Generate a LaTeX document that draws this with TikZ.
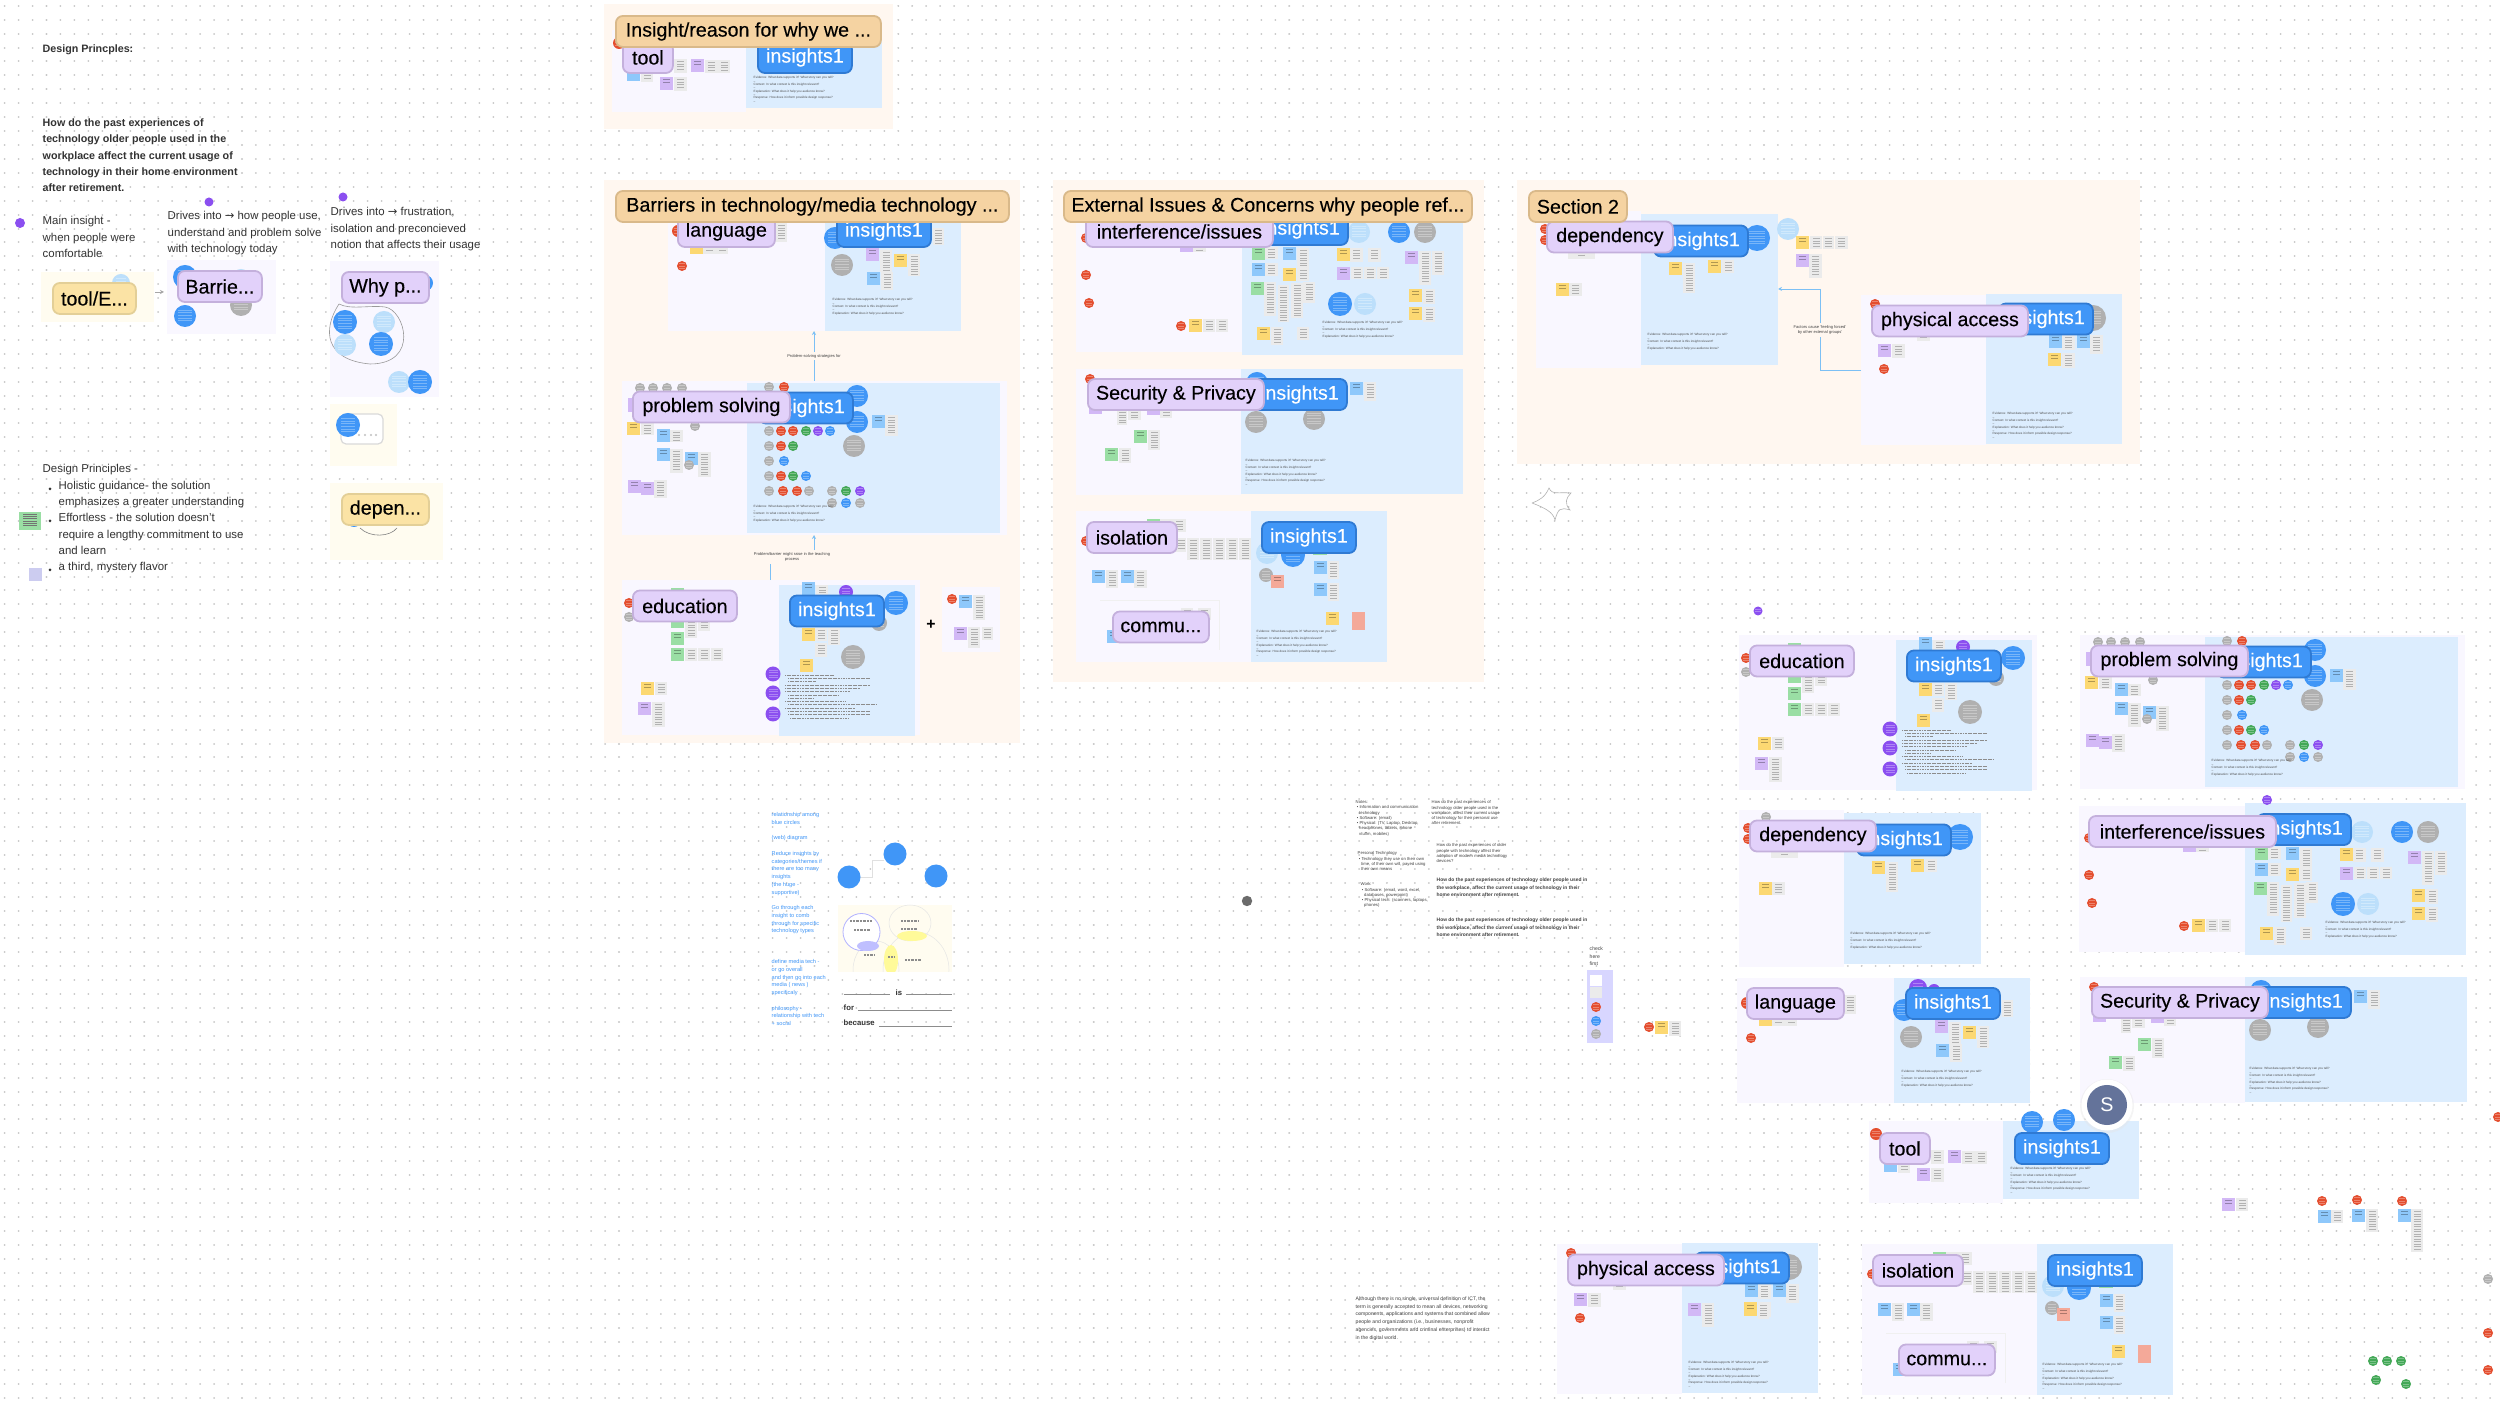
\documentclass[tikz,border=0pt]{standalone}
\usepackage{fontspec}
\setmainfont{Liberation Sans}
\newfontfamily\tagfamily[FakeBold=0.2]{Liberation Sans}
\newfontfamily\arrowfamily{DejaVu Sans}
\usetikzlibrary{arrows.meta}

\definecolor{sectionbg}{HTML}{FFF7F0}
\definecolor{lavbg}{HTML}{F9F7FF}
\definecolor{bluebg}{HTML}{DCEDFE}
\definecolor{yellowbg}{HTML}{FFFCF0}
\definecolor{tagorange}{HTML}{F5D3A2}
\definecolor{edgeorange}{HTML}{D9B98A}
\definecolor{taglav}{HTML}{E2D1FA}
\definecolor{edgelav}{HTML}{C4B0DC}
\definecolor{tagblue}{HTML}{4096F7}
\definecolor{edgeblue}{HTML}{2F7AD3}
\definecolor{tagyellow}{HTML}{FBE3A5}
\definecolor{edgeyellow}{HTML}{E3CF97}
\definecolor{stickyyellow}{HTML}{FCD872}
\definecolor{stickyblue}{HTML}{8EC8FB}
\definecolor{stickygreen}{HTML}{9ADEA4}
\definecolor{stickypurple}{HTML}{D2B8F6}
\definecolor{stickypink}{HTML}{F4A999}
\definecolor{notegrey}{HTML}{EBEBEB}
\definecolor{pipred}{HTML}{E44E2F}
\definecolor{pipblue}{HTML}{4096F7}
\definecolor{piplight}{HTML}{BCDFFB}
\definecolor{pipgrey}{HTML}{B0B0B0}
\definecolor{pipgreen}{HTML}{43A857}
\definecolor{pippurple}{HTML}{8B4FF0}
\definecolor{linkblue}{HTML}{7CC0F5}
\definecolor{avatarblue}{HTML}{64739A}

\tikzset{
  tagbase/.style={rounded corners=0.07cm, line width=0.018cm, inner sep=0pt, minimum height=0.31cm,
    anchor=west, text=black, font=\tagfamily\fontsize{5.6}{7}\selectfont},
  tagw/.style={minimum width=#1*0.01cm},
  orangetag/.style={tagbase, fill=tagorange, draw=edgeorange},
  lavtag/.style={tagbase, fill=taglav, draw=edgelav},
  bluetag/.style={tagbase, fill=tagblue, draw=edgeblue, text=white, tagw=94},
  yellowtag/.style={tagbase, fill=tagyellow, draw=edgeyellow},
  bodytext/.style={anchor=north west, inner sep=0pt, align=left, text=black!80,
    font=\fontsize{3.25}{4.65}\selectfont},
  boldtext/.style={bodytext, font=\bfseries\fontsize{3.05}{4.65}\selectfont},
  tinytext/.style={anchor=north west, inner sep=0pt, align=left, text=black!70,
    font=\fontsize{0.88}{0.95}\selectfont},
  smalltext/.style={anchor=north west, inner sep=0pt, align=left, text=black!75,
    font=\fontsize{1.45}{2.2}\selectfont},
  finetext/.style={smalltext, font=\fontsize{1.2}{1.5}\selectfont},
  formtext/.style={boldtext, font=\bfseries\fontsize{2.2}{2.4}\selectfont},
  linknote/.style={inner sep=0.5pt, align=center, text=black!75, font=\fontsize{1.15}{1.5}\selectfont},
  linkline/.style={draw=linkblue, line width=0.008cm},
}

% sticky square, grey note, small circle
\newcommand{\sticky}[3]{%
  \fill[#3] (#1,#2) rectangle ++(13,13);
  \draw[#3!70!black, line width=0.07cm, dash pattern=on 0.12pt off 0.6pt] (#1+6.5,#2+2) -- (#1+6.5,#2+6);}
\newcommand{\card}[4]{%
  \fill[notegrey] (#1,#2) rectangle (#3,#4);
  \draw[black!30, line width=0.07cm, dash pattern=on 0.12pt off 0.6pt] ({(#1+#3)/2},#2+2) -- ({(#1+#3)/2},#4-2);}
\newcommand{\pip}[4]{%
  \fill[#4] (#1,#2) circle (#3);
  \draw[#4!70!white, line width=#3*0.012cm, dash pattern=on 0.12pt off 0.6pt] (#1,#2-#3*0.55) -- (#1,#2+#3*0.55);}
\newcommand{\panels}[8]{%
  \fill[lavbg] (#1,#2) rectangle (#3,#4);
  \fill[bluebg] (#5,#6) rectangle (#7,#8);}
\newcommand{\proofs}[3]{%
  \node[tinytext] (proofs) at (#1,#2) {Evidence: What data supports it? What story can you tell?\\--\\
    Context: In what context is this insight relevant?\\--\\
    Explanation: What does it help you audience know?#3};}
\newcommand{\responseline}{\\--\\Response: How does it inform possible design response?\\--}

% boards, each drawn at its first position, shifted for its copy
\newcommand{\toolboard}{%
  \panels{612}{30}{746}{112}{746}{30}{882}{108}
  \pip{619}{43}{6}{pipred}
  \fill[stickyblue] (627,72) rectangle (640,81);
  \card{641}{73}{653}{82}
  \sticky{660}{77}{stickypurple}
  \card{674}{77}{687}{91}
  \card{674}{59}{687}{73}
  \sticky{691}{59}{stickypurple}
  \card{705}{60}{718}{73}
  \card{718}{60}{730}{73}
  \pip{775}{31}{11}{pipblue}
  \pip{807}{29}{11}{pipblue}
  \proofs{753}{76}{\responseline}
  \node[bluetag] (toolinsight) at (757,57.5) {insights1};
  \node[lavtag, tagw=50] (tooltag) at (622,57.5) {tool};
}
\newcommand{\languageboard}{%
  \panels{668}{206}{825}{331}{825}{206}{961}{331}
  \pip{678}{231}{6}{pipred}
  \pip{682}{266}{5}{pipred}
  \card{775}{223}{787}{242}
  \sticky{690}{241}{stickyyellow}
  \card{703}{248}{716}{254}
  \card{716}{248}{728}{254}
  \pip{849}{216}{9}{pippurple}
  \pip{865}{218}{6}{pippurple}
  \pip{835}{238}{11}{pipblue}
  \pip{842}{265}{11}{pipgrey}
  \sticky{866}{248}{stickypurple}
  \card{880}{250}{892}{272}
  \sticky{894}{254}{stickyyellow}
  \card{908}{254}{920}{276}
  \sticky{867}{272}{stickyblue}
  \card{881}{272}{893}{290}
  \card{933}{228}{944}{245}
  \proofs{832}{298}{}
  \node[bluetag] (langinsight) at (836,231.5) {insights1};
  \node[lavtag, tagw=97] (langtag) at (677,231.5) {language};
}
\newcommand{\problemboard}{%
  \panels{622}{381}{1007}{535}{747}{383}{1000}{533}
  \foreach \px in {640,653,667,682} {\pip{\px}{388}{5}{pipgrey}}
  \fill[stickypurple] (628,398) rectangle (641,412);
  \sticky{627}{422}{stickyyellow}
  \card{641}{423}{654}{435}
  \pip{695}{426}{5}{pipgrey}
  \sticky{657}{429}{stickyblue}
  \card{670}{430}{683}{442}
  \sticky{657}{448}{stickyblue}
  \card{670}{449}{683}{473}
  \sticky{685}{452}{stickyblue}
  \pip{689}{465}{5}{pipgrey}
  \card{698}{452}{711}{477}
  \sticky{628}{480}{stickypurple}
  \sticky{641}{482}{stickypurple}
  \card{654}{480}{667}{498}
  % circle rows
  \pip{769}{387}{5}{pipgrey}
  \pip{784}{387}{5}{pipred}
  \foreach \px/\pc in {769/pipgrey,781/pipred,793/pipred,806/pipgreen,818/pippurple,830/pipblue} {\pip{\px}{431}{5}{\pc}}
  \foreach \px/\pc in {769/pipgrey,781/pipred,793/pipgreen} {\pip{\px}{446}{5}{\pc}}
  \foreach \px/\pc in {769/pipgrey,784/pipblue} {\pip{\px}{461}{5}{\pc}}
  \foreach \px/\pc in {769/pipgrey,781/pipred,793/pipgreen,806/pipblue} {\pip{\px}{476}{5}{\pc}}
  \foreach \px/\pc in {769/pipgrey,783/pipred,797/pipred,809/pipgrey,832/pipgrey,846/pipgreen,860/pippurple} {\pip{\px}{491}{5}{\pc}}
  \foreach \px/\pc in {832/pipgrey,846/pipblue,860/pipgrey} {\pip{\px}{503}{5}{\pc}}
  \pip{857}{396}{11}{pipblue}
  \pip{857}{422}{11}{pipblue}
  \pip{854}{446}{11}{pipgrey}
  \sticky{872}{415}{stickyblue}
  \card{885}{415}{898}{436}
  \proofs{753}{505}{}
  \node[bluetag] (probinsight) at (758,408) {insights1};
  \node[lavtag, tagw=157] (probtag) at (632,407) {problem solving};
}
\newcommand{\educationboard}{%
  \panels{622}{580}{920}{735}{779}{585}{915}{736}
  \pip{629}{603}{5}{pipred}
  \pip{629}{617}{5}{pipgrey}
  \fill[stickygreen] (671,588) rectangle (684,628);
  \card{685}{590}{697}{638}
  \card{698}{590}{710}{631}
  \sticky{671}{632}{stickygreen}
  \sticky{671}{648}{stickygreen}
  \card{685}{648}{697}{661}
  \card{698}{648}{710}{661}
  \card{711}{648}{723}{661}
  \sticky{641}{682}{stickyyellow}
  \card{655}{682}{667}{695}
  \sticky{638}{702}{stickypurple}
  \card{652}{702}{665}{727}
  \pip{773}{674}{7.5}{pippurple}
  \pip{773}{693}{7.5}{pippurple}
  \pip{773}{714}{7.5}{pippurple}
  \sticky{802}{582}{stickyblue}
  \card{816}{585}{828}{596}
  \pip{846}{592}{7}{pippurple}
  \pip{896}{603}{12}{pipblue}
  \pip{879}{623}{8}{pipgrey}
  \sticky{802}{628}{stickyyellow}
  \card{815}{628}{827}{641}
  \card{828}{628}{840}{645}
  \card{815}{643}{827}{657}
  \pip{853}{657}{12}{pipgrey}
  \sticky{800}{659}{stickyyellow}
  % long answer lines
  \foreach \ax/\aw [count=\an] in {785/48,788/82,788/28,785/85,785/75,785/65,788/50,788/25,785/60,788/88,785/70,788/82,788/82,790/58} {
    \draw[black!45, line width=0.01cm, dash pattern=on 0.35pt off 0.12pt] (\ax,672+\an*3.3) -- (\ax+\aw,672+\an*3.3);
  }
  \node[bluetag] (eduinsight) at (789,611) {insights1};
  \node[lavtag, tagw=104] (edutag) at (632,606) {education};
}
\newcommand{\interferenceboard}{%
  \panels{1076}{206}{1242}{352}{1242}{203}{1463}{355}
  \foreach \px/\py in {1086/238,1086/275,1089/303,1181/326} {\pip{\px}{\py}{5}{pipred}}
  \pip{1264}{200}{5}{pippurple}
  \sticky{1189}{319}{stickyyellow}
  \card{1203}{319}{1215}{332}
  \card{1216}{319}{1228}{332}
  \sticky{1180}{239}{stickypurple}
  \card{1193}{240}{1206}{252}
  \pip{1359}{232}{11}{piplight}
  \pip{1399}{232}{11}{pipblue}
  \pip{1425}{232}{11}{pipgrey}
  \pip{1340}{304}{12}{pipblue}
  \pip{1365}{304}{11}{piplight}
  \sticky{1252}{247}{stickygreen}
  \card{1265}{247}{1278}{259}
  \sticky{1283}{247}{stickyblue}
  \card{1297}{248}{1309}{272}
  \sticky{1337}{248}{stickyyellow}
  \card{1350}{248}{1363}{262}
  \card{1368}{248}{1381}{262}
  \sticky{1405}{251}{stickypurple}
  \card{1419}{251}{1431}{285}
  \card{1432}{251}{1444}{275}
  \sticky{1252}{263}{stickyblue}
  \card{1265}{263}{1278}{276}
  \sticky{1283}{268}{stickyyellow}
  \card{1297}{268}{1309}{281}
  \sticky{1337}{267}{stickypurple}
  \card{1351}{267}{1363}{279}
  \card{1364}{267}{1376}{279}
  \card{1377}{267}{1389}{279}
  \sticky{1251}{282}{stickygreen}
  \card{1264}{282}{1276}{316}
  \card{1278}{285}{1289}{322}
  \card{1291}{283}{1303}{318}
  \card{1303}{282}{1315}{303}
  \sticky{1257}{327}{stickyyellow}
  \card{1271}{327}{1283}{345}
  \card{1297}{327}{1309}{340}
  \sticky{1409}{289}{stickyyellow}
  \card{1423}{289}{1435}{304}
  \sticky{1409}{307}{stickyyellow}
  \card{1423}{307}{1435}{322}
  \proofs{1322}{321}{}
  \node[bluetag] (interinsight) at (1253,229.5) {insights1};
  \node[lavtag, tagw=187] (intertag) at (1085,231.5) {interference/issues};
}
\newcommand{\securityboard}{%
  \panels{1076}{369}{1241}{495}{1241}{369}{1463}{494}
  \pip{1090}{379}{5}{pipred}
  \sticky{1089}{401}{stickypurple}
  \card{1117}{410}{1127}{425}
  \card{1128}{410}{1141}{420}
  \sticky{1147}{402}{stickypurple}
  \card{1160}{410}{1172}{418}
  \sticky{1134}{430}{stickygreen}
  \card{1148}{430}{1160}{450}
  \sticky{1105}{448}{stickygreen}
  \card{1119}{448}{1131}{463}
  \pip{1257}{383}{11}{pipblue}
  \pip{1256}{422}{11}{pipgrey}
  \pip{1314}{419}{11}{pipgrey}
  \sticky{1350}{382}{stickyblue}
  \card{1364}{382}{1376}{401}
  \proofs{1245}{459}{\responseline}
  \node[bluetag] (secinsight) at (1252,394.5) {insights1};
  \node[lavtag, tagw=176] (sectag) at (1087,394.5) {Security \& Privacy};
}
\newcommand{\isolationboard}{%
  \panels{1076}{511}{1251}{662}{1251}{511}{1387}{662}
  \fill[stickygreen] (1147,519) rectangle (1160,532);
  \card{1160}{519}{1173}{532}
  \card{1173}{519}{1186}{532}
  \pip{1086}{541}{5}{pipred}
  \card{1176}{538}{1186}{552}
  \foreach \px in {1187,1200,1213,1226,1239} {\card{\px}{538}{\px+12}{560}}
  \sticky{1092}{570}{stickyblue}
  \card{1106}{570}{1118}{588}
  \sticky{1121}{570}{stickyblue}
  \card{1134}{570}{1147}{588}
  \draw[black!6, line width=0.005cm] (1100,600) -- (1219,600) -- (1219,650);
  \card{1181}{608}{1193}{620}
  \card{1198}{608}{1211}{620}
  \sticky{1107}{630}{stickyblue}
  \pip{1267}{553}{11}{piplight}
  \pip{1293}{555}{12}{pipblue}
  \pip{1266}{575}{7}{pipgrey}
  \sticky{1271}{575}{stickypink}
  \fill[stickygreen] (1313,548) rectangle (1327,555);
  \sticky{1314}{561}{stickyblue}
  \card{1328}{561}{1339}{579}
  \sticky{1314}{583}{stickyblue}
  \card{1328}{583}{1339}{601}
  \sticky{1326}{612}{stickyyellow}
  \fill[stickypink] (1352,612) rectangle (1365,630);
  \proofs{1256}{630}{\responseline}
  \node[bluetag] (isoinsight) at (1261,537.5) {insights1};
  \node[lavtag, tagw=90] (isotag) at (1086,537.5) {isolation};
  \node[lavtag, tagw=96] (commutag) at (1112,627) {commu...};
}
\newcommand{\dependencyboard}{%
  \panels{1536}{211}{1641}{368}{1641}{214}{1778}{365}
  \pip{1545}{229}{5}{pipred}
  \pip{1545}{240}{5}{pipred}
  \pip{1563}{218}{5}{pipgrey}
  \card{1568}{245}{1595}{259}
  \sticky{1556}{283}{stickyyellow}
  \card{1569}{283}{1582}{296}
  \pip{1757}{238}{13}{pipblue}
  \sticky{1669}{262}{stickyyellow}
  \card{1683}{263}{1695}{293}
  \sticky{1708}{260}{stickyyellow}
  \card{1722}{260}{1734}{273}
  \proofs{1647}{333}{}
  \node[bluetag] (depinsight) at (1653,241) {insights1};
  \node[lavtag, tagw=126] (deptag) at (1546,237) {dependency};
}
\newcommand{\physicalboard}{%
  \panels{1861}{295}{1986}{445}{1986}{294}{2122}{444}
  \pip{1875}{304}{5}{pipred}
  \pip{1884}{369}{5}{pipred}
  \sticky{1878}{344}{stickypurple}
  \card{1892}{344}{1905}{358}
  \card{1917}{330}{1930}{341}
  \pip{2093}{318}{13}{pipgrey}
  \sticky{2049}{335}{stickyblue}
  \card{2062}{335}{2075}{350}
  \sticky{2077}{335}{stickyblue}
  \card{2090}{335}{2103}{354}
  \sticky{2048}{353}{stickyyellow}
  \card{2062}{353}{2075}{368}
  \proofs{1992}{412}{\responseline}
  \node[bluetag] (physinsight) at (1998,319) {insights1};
  \node[lavtag, tagw=156] (phystag) at (1871,321) {physical access};
}

\begin{document}
\begin{tikzpicture}[x=0.01cm, y=-0.01cm, >={Stealth[length=0.04cm,width=0.04cm]}]
  \useasboundingbox (0,0) rectangle (2500,1410);
  \fill[white] (0,0) rectangle (2500,1410);

  % Dot grid
  \foreach \gy in {0,...,100} {
    \draw[black!22, line width=0.02cm, line cap=round, dash pattern=on 0.01pt off 3.9606pt]
      (4.6,5.8+\gy*13.92) -- (2500,5.8+\gy*13.92);
  }

  % Section frames
  \fill[sectionbg] (604,4) rectangle (893,129);
  \fill[sectionbg] (604,180) rectangle (1020,743);
  \fill[sectionbg] (1053,180) rectangle (1484,682);
  \fill[sectionbg] (1517,180) rectangle (2140,464);

  % Section contents
  \toolboard
  \languageboard
  \problemboard
  \educationboard
  \interferenceboard
  \securityboard
  \isolationboard
  \dependencyboard
  \physicalboard

  % Small frame beside education
  \fill[lavbg] (942,587) rectangle (1000,652);
  \pip{952}{599}{5}{pipred}
  \sticky{959}{595}{stickyblue}
  \card{973}{595}{985}{620}
  \sticky{954}{627}{stickypurple}
  \card{968}{627}{980}{648}
  \card{982}{627}{993}{640}
  \node[inner sep=0pt, font=\fontsize{4.5}{5}\selectfont\bfseries] (plus) at (931,625) {+};

  % Stickies right of dependency
  \pip{1788}{229}{11}{piplight}
  \sticky{1796}{236}{stickyyellow}
  \card{1810}{236}{1822}{249}
  \card{1823}{236}{1834}{249}
  \card{1835}{236}{1848}{249}
  \sticky{1796}{254}{stickypurple}
  \card{1809}{254}{1822}{278}

  % Section links
  \coordinate (probtop) at (814,381);
  \coordinate (langbot) at (814,331);
  \node[linknote, fill=sectionbg] (stratnote) at (814,356) {Problem-solving strategies for};
  \draw[linkline] (probtop) -- (stratnote);
  \draw[linkline,->] (stratnote) -- (langbot);
  \coordinate (edutop) at (770,580);
  \coordinate (probbot) at (814,535);
  \node[linknote] (raisenote) at (792,557) {Problem/barrier might raise in the teaching\\process};
  \draw[linkline] (edutop) -- (edutop |- raisenote.south);
  \draw[linkline,->] (raisenote.north -| probbot) -- (probbot);
  \coordinate (physleft) at (1861,370);
  \coordinate (depright) at (1778,289);
  \node[linknote, fill=sectionbg] (forcednote) at (1820,330) {Factors cause `feeling forced'\\by other external groups'};
  \draw[linkline] (physleft) -| (forcednote);
  \draw[linkline,->] (forcednote) |- (depright);

  % Section tags
  \node[orangetag, tagw=265] (insighttag) at (615,31.5) {Insight/reason for why we ...};
  \node[orangetag, tagw=393] (barriertag) at (615,206.5) {Barriers in technology/media technology ...};
  \node[orangetag, tagw=408] (externaltag) at (1063,206.5) {External Issues \& Concerns why people ref...};
  \node[orangetag, tagw=98] (sectiontag) at (1528,206.5) {Section 2};

  % Right hand copies of the boards
  \begin{scope}[shift={(1117,55)}] \educationboard \end{scope}
  \begin{scope}[shift={(1458,254)}] \problemboard \end{scope}
  \begin{scope}[shift={(203,599)}] \dependencyboard \end{scope}
  \begin{scope}[shift={(1003,600)}] \interferenceboard \end{scope}
  \begin{scope}[shift={(1069,772)}] \languageboard \end{scope}
  \begin{scope}[shift={(1004,608)}] \securityboard \end{scope}
  \begin{scope}[shift={(1257,1091)}] \toolboard \end{scope}
  \begin{scope}[shift={(-304,949)}]
    \physicalboard
    \sticky{1992}{354}{stickypurple}
    \card{2006}{354}{2018}{378}
    \sticky{2048}{354}{stickyyellow}
    \card{2062}{354}{2073}{370}
  \end{scope}
  \begin{scope}[shift={(786,733)}] \isolationboard \end{scope}

  % Avatar
  \fill[black!10, opacity=0.4] (2107,1106) circle (27);
  \fill[white] (2107,1105) circle (25.5);
  \node[circle, fill=avatarblue, minimum size=0.4cm, inner sep=0pt, text=white,
    font=\fontsize{5.6}{6}\selectfont] (avatar) at (2107,1105) {S};

  % Left column text
  \node[boldtext] (title) at (42,44.5) {Design Princples:};
  \node[boldtext] (question) at (42,118) {How do the past experiences of\\technology older people used in the\\workplace affect the current usage of\\technology in their home environment\\after retirement.};
  \node[bodytext] (maintext) at (42,216) {Main insight -\\when people were\\comfortable};
  \node[bodytext] (drivesa) at (167,211) {Drives into {\arrowfamily →} how people use,\\understand and problem solve\\with technology today};
  \node[bodytext] (drivesb) at (330,207) {Drives into {\arrowfamily →} frustration,\\isolation and preconcieved\\notion that affects their usage};
  \fill[pippurple] (20,223) circle (5);
  \fill[pippurple] (209,202) circle (4.5);
  \fill[pippurple] (343,197) circle (4.5);

  % Left column frames
  \fill[yellowbg] (41,272) rectangle (154,322);
  \pip{121}{283}{9}{piplight}
  \node[yellowtag, tagw=83] (tooltagb) at (52,298.5) {tool/E...};
  \coordinate (barrieleft) at (164,292);
  \coordinate (toolright) at (155,292);
  \fill[lavbg] (167,260) rectangle (276,334);
  \pip{185}{277}{12}{pipblue}
  \pip{241}{278}{9}{piplight}
  \pip{185}{316}{11}{pipblue}
  \pip{241}{305}{11}{pipgrey}
  \node[lavtag, tagw=84] (barrietag) at (177,286.5) {Barrie...};
  \draw[black!35, line width=0.008cm, ->] (toolright) -- (barrieleft);
  \fill[lavbg] (330,261) rectangle (439,397);
  \pip{425}{283}{8}{pipblue}
  \draw[black!40, line width=0.006cm] (339,304) .. controls (322,330) and (325,360) .. (370,364)
    .. controls (420,364) and (405,310) .. (385,307) .. controls (370,305) and (350,310) .. (339,304);
  \pip{345}{322}{12}{pipblue}
  \pip{384}{322}{11}{piplight}
  \pip{345}{345}{11}{piplight}
  \pip{381}{344}{12}{pipblue}
  \pip{399}{382}{11}{piplight}
  \pip{420}{382}{12}{pipblue}
  \node[lavtag, tagw=87] (whytag) at (341,287.5) {Why p...};
  \fill[yellowbg] (330,404) rectangle (397,466);
  \draw[black!15, fill=white, rounded corners=0.05cm, line width=0.012cm] (341,414) rectangle (383,444);
  \foreach \dx in {359,365,371,376} {\fill[black!25] (\dx,435) circle (1.2);}
  \pip{348}{425}{12}{pipblue}
  \fill[yellowbg] (330,483) rectangle (443,560);
  \pip{354}{520}{7}{pipblue}
  \draw[black!50, line width=0.006cm] (360,528) .. controls (370,538) and (390,537) .. (397,528);
  \node[yellowtag, tagw=87] (dependtag) at (341,509.5) {depen...};

  % Design principles list
  \node[bodytext] (principles) at (42,464) {Design Principles -};
  \foreach \ly/\lt [count=\li] in {481/Holistic guidance- the solution,497/emphasizes a greater understanding,513/Effortless - the solution doesn't,530/require a lengthy commitment to use,546/and learn,562/{a third, mystery flavor}} {
    \node[bodytext] (principle\li) at (58,\ly) {\lt};
  }
  \foreach \by in {489,521,570} {\fill[black!80] (50,\by) circle (1.5);}
  \fill[stickygreen] (19,512) rectangle (41,530);
  \draw[black!55, line width=0.14cm, dash pattern=on 0.12pt off 0.5pt] (30,514) -- (30,526);
  \fill[black!30!blue!20!white] (29,568) rectangle (42,581);

  % Blue notes
  \node[anchor=north west, inner sep=0pt, align=left, text=pipblue, font=\fontsize{1.6}{2.2}\selectfont] (bluenotes) at (771,812)
    {relationship among\\blue circles\\[2.2pt](web) diagram\\[2.2pt]Reduce insights by\\categories/themes if\\there are too many\\insights\\(the huge -\\supportive)\\[2.2pt]Go through each\\insight to comb\\through for specific\\technology types\\[6.6pt]define media tech -\\or go overall\\and then go into each\\media ( news )\\specificaly\\[2.2pt]philosophy -\\relationship with tech\\+ social};
  \draw[black!12, line width=0.006cm] (860,877) -- (872,877) -- (872,860) -- (884,860);
  \fill[pipblue] (895,854) circle (11.5);
  \fill[pipblue] (849,877) circle (11.5);
  \fill[pipblue] (936,876) circle (11.5);

  % Venn thumbnail
  \fill[yellowbg] (838,905) rectangle (952,972);
  \begin{scope}
    \clip (838,905) rectangle (952,972);
    \draw[black!10, line width=0.005cm] (910,923) ellipse (21 and 18);
    \draw[black!10, line width=0.005cm] (916,970) ellipse (33 and 38);
    \draw[black!10, line width=0.005cm] (876,970) ellipse (23 and 29);
    \fill[yellow!40] (912,936) ellipse (15 and 5);
    \fill[yellow!40] (891,960) ellipse (7 and 15);
    \draw[blue!30, fill=white, line width=0.008cm] (861.5,932) circle (18.5);
    \fill[blue!25] (868,946) ellipse (11 and 5);
    % thumbnail captions
    \foreach \cx/\cy/\cw in {861/921/11,862/930/8,910/921/9,909/929/8,869/955/5,913/960/8,891/957/3} {
      \draw[black!45, line width=0.02cm, dash pattern=on 0.2pt off 0.2pt] (\cx-\cw,\cy) -- (\cx+\cw,\cy);
    }
  \end{scope}

  % Fill in form
  \node[formtext] (formis) at (895,989) {is};
  \node[formtext, anchor=west] (formfor) at (843,1008) {for};
  \node[formtext, anchor=west] (formbecause) at (843,1023) {because};
  \draw[black!45, line width=0.008cm] (844,994) -- (890,994) (906,994) -- (952,994);
  \draw[black!45, line width=0.008cm] (858,1010) -- (952,1010);
  \draw[black!45, line width=0.008cm] (879,1026) -- (952,1026);

  % Notes in the middle
  \fill[black!58] (1247,901) circle (5.2);
  \node[finetext] (notesa) at (1355,800) {Notes:\\ \ • Information and communication\\ \ \ \ technology\\ \ • Software: (email)\\ \ • Physical: (TV, Laptop, Desktop,\\ \ \ \ headphones, tablets, iphone\\ \ \ \ vtuffm, mobiles)};
  \node[finetext] (notesb) at (1357,851) {Personal Technology\\ \ • Technology they use on their own\\ \ \ \ time, of their own will, payed using\\ \ \ \ their own means};
  \node[finetext] (notesc) at (1360,882) {Work:\\ \ • Software: (email, word, excel,\\ \ \ \ databases, powerpoint)\\ \ • Physical tech: (scanners, laptops,\\ \ \ \ phones)};
  \node[finetext] (notesd) at (1431,800) {How do the past experiences of\\technology older people used in the\\workplace, affect their current usage\\of technology for their personal use\\after retirement.};
  \node[finetext] (notese) at (1436,843) {How do the past experiences of older\\people with technology affect their\\adoption of modern media technology\\devices?};
  \node[smalltext, font=\bfseries\fontsize{1.4}{2.2}\selectfont] (boldq) at (1436,877) {How do the past experiences of technology older people used in\\the workplace, affect the current usage of technology in their\\home environment after retirement.};
  \node[smalltext, font=\bfseries\fontsize{1.4}{2.2}\selectfont] (boldr) at (1436,917) {How do the past experiences of technology older people used in\\the workplace, affect the current usage of technology in their\\home environment after retirement.};
  \node[smalltext] (ictnote) at (1355,1296) {Although there is no single, universal definition of ICT, the\\term is generally accepted to mean all devices, networking\\components, applications and systems that combined allow\\people and organizations (i.e., businesses, nonprofit\\agencies, governments and criminal enterprises) to interact\\in the digital world.};

  % Check here strip
  \node[smalltext] (checkhere) at (1589,946) {check\\here\\first};
  \fill[lavbg!85!blue!90!white] (1587,970) rectangle (1613,1043);
  \fill[white] (1590,975) rectangle (1602,986);
  \fill[notegrey] (1590,987) rectangle (1602,998);
  \pip{1596}{1007}{5}{pipred}
  \pip{1596}{1021}{5}{pipblue}
  \pip{1596}{1034}{5}{pipgrey}
  \pip{1649}{1027}{5}{pipred}
  \sticky{1655}{1021}{stickyyellow}
  \card{1669}{1021}{1681}{1036}

  % Loose items
  \pip{1758}{611}{4.5}{pippurple}
  \draw[black!30, line width=0.006cm] (1532,503) .. controls (1540,500) and (1545,497) .. (1549,488)
    .. controls (1552,495) and (1558,492) .. (1571,493) .. controls (1566,498) and (1564,503) .. (1570,510)
    .. controls (1560,507) and (1558,509) .. (1555,520) .. controls (1553,512) and (1545,508) .. (1532,503);

  % Bottom right scatter
  \sticky{2222}{1198}{stickypurple}
  \card{2236}{1198}{2248}{1211}
  \pip{2322}{1201}{5}{pipred}
  \pip{2357}{1200}{5}{pipred}
  \pip{2402}{1201}{5}{pipred}
  \sticky{2318}{1210}{stickyblue}
  \card{2331}{1210}{2343}{1223}
  \sticky{2352}{1209}{stickyblue}
  \card{2366}{1209}{2378}{1232}
  \sticky{2398}{1209}{stickyblue}
  \card{2411}{1209}{2423}{1252}
  \pip{2498}{1117}{5}{pipred}
  \pip{2488}{1279}{5}{pipgrey}
  \pip{2488}{1333}{5}{pipred}
  \pip{2488}{1370}{5}{pipred}
  \foreach \px/\py in {2373/1361,2387/1361,2401/1361,2376/1380,2406/1384} {\pip{\px}{\py}{5}{pipgreen}}
\end{tikzpicture}
\end{document}
